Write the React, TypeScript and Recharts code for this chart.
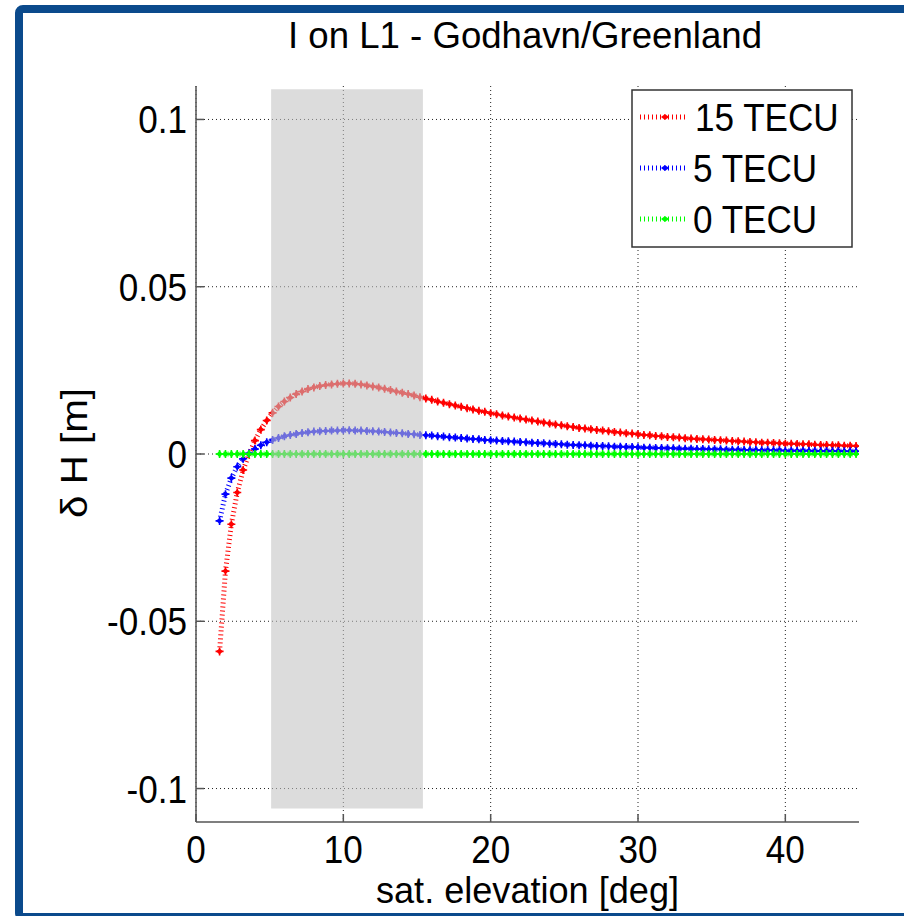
import React from 'react';
import { LineChart, Line, XAxis, YAxis, CartesianGrid, ReferenceArea, Legend } from 'recharts';

// satellite elevation [deg]
const elevation = [
  1.6, 2.0, 2.4, 2.8, 3.2, 3.6, 4.0, 4.4, 4.8, 5.2,
  5.6, 6.0, 6.4, 6.8, 7.2, 7.6, 8.0, 8.4, 8.8, 9.2,
  9.6, 10.0, 10.4, 10.8, 11.2, 11.6, 12.0, 12.4, 12.8, 13.2,
  13.6, 14.0, 14.4, 14.8, 15.2, 15.6, 16.0, 16.4, 16.8, 17.2,
  17.6, 18.0, 18.4, 18.8, 19.2, 19.6, 20.0, 20.4, 20.8, 21.2,
  21.6, 22.0, 22.4, 22.8, 23.2, 23.6, 24.0, 24.4, 24.8, 25.2,
  25.6, 26.0, 26.4, 26.8, 27.2, 27.6, 28.0, 28.4, 28.8, 29.2,
  29.6, 30.0, 30.4, 30.8, 31.2, 31.6, 32.0, 32.4, 32.8, 33.2,
  33.6, 34.0, 34.4, 34.8, 35.2, 35.6, 36.0, 36.4, 36.8, 37.2,
  37.6, 38.0, 38.4, 38.8, 39.2, 39.6, 40.0, 40.4, 40.8, 41.2,
  41.6, 42.0, 42.4, 42.8, 43.2, 43.6, 44.0, 44.4, 44.8,
];

// height error [m] for 15 TECU
const tecu15 = [
  -0.059, -0.035, -0.021, -0.0115, -0.0048, 0.0, 0.004, 0.0073, 0.01, 0.0123,
  0.0142, 0.0157, 0.0169, 0.0179, 0.0187, 0.0194, 0.0199, 0.0203, 0.0206, 0.0208,
  0.021, 0.0211, 0.0211, 0.021, 0.0208, 0.0205, 0.0202, 0.0199, 0.0195, 0.0191,
  0.0187, 0.0183, 0.0179, 0.0175, 0.017, 0.0166, 0.0162, 0.0157, 0.0153, 0.0149,
  0.0145, 0.0141, 0.0137, 0.0133, 0.0129, 0.0126, 0.0122, 0.0119, 0.0115, 0.0112,
  0.0109, 0.0106, 0.0103, 0.01, 0.0097, 0.0094, 0.0091, 0.0088, 0.0086, 0.0083,
  0.0081, 0.0078, 0.0076, 0.0074, 0.0072, 0.007, 0.0068, 0.0066, 0.0064, 0.0062,
  0.0061, 0.0059, 0.0057, 0.0056, 0.0054, 0.0053, 0.0051, 0.005, 0.0049, 0.0047,
  0.0046, 0.0045, 0.0044, 0.0043, 0.0042, 0.0041, 0.004, 0.0039, 0.0038, 0.0037,
  0.0036, 0.0035, 0.0034, 0.0034, 0.0033, 0.0032, 0.0031, 0.0031, 0.003, 0.0029,
  0.0029, 0.0028, 0.0027, 0.0027, 0.0026, 0.0026, 0.0025, 0.0025, 0.0024,
];

// height error [m] for 5 TECU
const tecu5 = [
  -0.02, -0.012, -0.0072, -0.0038, -0.0014, 0.0002, 0.0015, 0.0026, 0.0035, 0.0042,
  0.0048, 0.0053, 0.0057, 0.006, 0.0063, 0.0065, 0.0067, 0.0068, 0.0069, 0.007,
  0.007, 0.0071, 0.0071, 0.007, 0.007, 0.0069, 0.0068, 0.0067, 0.0066, 0.0064,
  0.0063, 0.0062, 0.006, 0.0059, 0.0057, 0.0056, 0.0055, 0.0053, 0.0052, 0.005,
  0.0049, 0.0048, 0.0046, 0.0045, 0.0044, 0.0042, 0.0041, 0.004, 0.0039, 0.0038,
  0.0037, 0.0036, 0.0035, 0.0034, 0.0033, 0.0032, 0.0031, 0.003, 0.0029, 0.0028,
  0.0027, 0.0026, 0.0026, 0.0025, 0.0024, 0.0024, 0.0023, 0.0022, 0.0022, 0.0021,
  0.0021, 0.002, 0.0019, 0.0019, 0.0018, 0.0018, 0.0017, 0.0017, 0.0016, 0.0016,
  0.0016, 0.0015, 0.0015, 0.0014, 0.0014, 0.0014, 0.0013, 0.0013, 0.0013, 0.0012,
  0.0012, 0.0012, 0.0011, 0.0011, 0.0011, 0.0011, 0.001, 0.001, 0.001, 0.001,
  0.001, 0.0009, 0.0009, 0.0009, 0.0009, 0.0009, 0.0008, 0.0008, 0.0008,
];

// height error [m] for 0 TECU
const tecu0 = [
  0, 0, 0, 0, 0, 0, 0, 0, 0, 0,
  0, 0, 0, 0, 0, 0, 0, 0, 0, 0,
  0, 0, 0, 0, 0, 0, 0, 0, 0, 0,
  0, 0, 0, 0, 0, 0, 0, 0, 0, 0,
  0, 0, 0, 0, 0, 0, 0, 0, 0, 0,
  0, 0, 0, 0, 0, 0, 0, 0, 0, 0,
  0, 0, 0, 0, 0, 0, 0, 0, 0, 0,
  0, 0, 0, 0, 0, 0, 0, 0, 0, 0,
  0, 0, 0, 0, 0, 0, 0, 0, 0, 0,
  0, 0, 0, 0, 0, 0, 0, 0, 0, 0,
  0, 0, 0, 0, 0, 0, 0, 0, 0,
];

const seriesNames = ['15 TECU', '5 TECU', '0 TECU'];
const xTicks = [0, 10, 20, 30, 40];
const yTicks = [-0.1, -0.05, 0, 0.05, 0.1];

// shaded elevation window
const bandElevation = [5.1, 15.4];
const bandHeight = [-0.106, 0.109];

const data = elevation.map((e, i) => ({
  elev: e,
  tec15: tecu15[i],
  tec5: tecu5[i],
  tec0: tecu0[i],
}));

const FONT = 'Liberation Sans, Arial, Helvetica, sans-serif';
const AXIS = '#555555';

const XTick = ({ x, y, payload }: any) => (
  <g>
    <line x1={x} x2={x} y1={y} y2={y - 8} stroke={AXIS} strokeWidth={1.5} />
    <g transform={`translate(${x},${y + 41}) scale(0.9,1)`}>
      <text textAnchor="middle" fontSize={39} fontFamily={FONT} fill="#000">
        {payload.value}
      </text>
    </g>
  </g>
);

const YTick = ({ x, y, payload }: any) => (
  <g>
    <line x1={x} x2={x + 8} y1={y} y2={y} stroke={AXIS} strokeWidth={1.5} />
    <g transform={`translate(${x - 9},${y + 14}) scale(0.9,1)`}>
      <text textAnchor="end" fontSize={39} fontFamily={FONT} fill="#000">
        {String(payload.value)}
      </text>
    </g>
  </g>
);

const renderMarker = (color: string) => (props: any) => {
  const { cx, cy, index } = props;
  if (cx == null || cy == null) return <g key={index} />;
  return (
    <g key={index}>
      <path d={`M${cx - 3.2},${cy} L${cx},${cy - 3.2} L${cx + 3.2},${cy} L${cx},${cy + 3.2} Z`} fill={color} />
      <path d={`M${cx - 4},${cy} H${cx + 4} M${cx},${cy - 4} V${cy + 4}`} stroke={color} strokeWidth={1.6} />
    </g>
  );
};

const LegendBox = ({ payload }: any) => {
  const items = (payload || [])
    .slice()
    .sort((a: any, b: any) => seriesNames.indexOf(a.value) - seriesNames.indexOf(b.value));
  return (
    <svg width={222} height={159} style={{ display: 'block' }}>
      <rect x={1} y={1} width={220} height={157} fill="#fff" stroke="#333" strokeWidth={1.5} />
      {items.map((item: any, i: number) => {
        const cy = 28 + i * 51;
        const color = item.color;
        return (
          <g key={item.value}>
            <line x1={9} x2={57} y1={cy} y2={cy} stroke={color} strokeWidth={5} strokeDasharray="1 3" />
            <path d={`M30,${cy} L34,${cy - 3} L38,${cy} L34,${cy + 3} Z`} fill={color} />
            <g transform={`translate(${i === 0 ? 64 : 62},${cy + 14}) scale(0.9,1)`}>
              <text fontSize={39} fontFamily={FONT} fill="#000">{item.value}</text>
            </g>
          </g>
        );
      })}
    </svg>
  );
};

export default function App() {
  return (
    <div style={{ position: 'absolute', left: 0, top: 0, width: 904, height: 916, overflow: 'hidden', background: '#fff' }}>
      <div
        style={{
          position: 'absolute',
          left: 15,
          top: 5,
          width: 1400,
          height: 916,
          boxSizing: 'border-box',
          border: '8px solid #0b4a8c',
          borderRadius: 8,
        }}
      />
      <div style={{ position: 'absolute', left: 0, top: 0 }}>
        <LineChart width={904} height={916} data={data} margin={{ top: 86, right: 45, bottom: 0, left: 0 }}>
          <CartesianGrid stroke="#222" strokeDasharray="1 3" strokeWidth={1} syncWithTicks />
          <XAxis
            dataKey="elev"
            type="number"
            domain={[0, 45]}
            ticks={xTicks}
            allowDataOverflow
            height={94}
            stroke={AXIS}
            strokeWidth={1.5}
            tickLine={false}
            tickSize={0}
            tickMargin={0}
            tick={<XTick />}
            label={{
              content: ({ viewBox }: any) => (
                <text
                  x={viewBox.x + viewBox.width / 2}
                  y={viewBox.y + 81}
                  textAnchor="middle"
                  fontSize={36}
                  fontFamily={FONT}
                  fill="#000"
                  textLength={303}
                  lengthAdjust="spacingAndGlyphs"
                >
                  sat. elevation [deg]
                </text>
              ),
            }}
          />
          <YAxis
            type="number"
            domain={[-0.11, 0.11]}
            ticks={yTicks}
            allowDataOverflow
            width={196}
            stroke={AXIS}
            strokeWidth={1.5}
            tickLine={false}
            tickSize={0}
            tickMargin={0}
            tick={<YTick />}
            label={{
              content: ({ viewBox }: any) => (
                <text
                  transform={`translate(87,${viewBox.y + viewBox.height / 2 - 1}) rotate(-90)`}
                  textAnchor="middle"
                  fontSize={36}
                  fontFamily={FONT}
                  fill="#000"
                  textLength={130}
                  lengthAdjust="spacingAndGlyphs"
                >
                  δ H [m]
                </text>
              ),
            }}
          />
          <Line
            name="15 TECU"
            dataKey="tec15"
            stroke="#ff0000"
            strokeWidth={5}
            strokeDasharray="1 3"
            dot={renderMarker('#ff0000')}
            activeDot={false}
            isAnimationActive={false}
          />
          <Line
            name="5 TECU"
            dataKey="tec5"
            stroke="#0000ff"
            strokeWidth={5}
            strokeDasharray="1 3"
            dot={renderMarker('#0000ff')}
            activeDot={false}
            isAnimationActive={false}
          />
          <Line
            name="0 TECU"
            dataKey="tec0"
            stroke="#00ff00"
            strokeWidth={5}
            strokeDasharray="1 3"
            dot={renderMarker('#00ff00')}
            activeDot={false}
            isAnimationActive={false}
          />
          <ReferenceArea
            x1={bandElevation[0]}
            x2={bandElevation[1]}
            y1={bandHeight[0]}
            y2={bandHeight[1]}
            fill="#c1c1c1"
            fillOpacity={0.57}
            stroke="none"
            ifOverflow="visible"
            zIndex={1000}
          />
          <Legend
            layout="vertical"
            align="center"
            verticalAlign="middle"
            content={<LegendBox />}
            wrapperStyle={{ position: 'absolute', left: 631, top: 89, width: 222, height: 159 }}
          />
        </LineChart>
      </div>
      <svg style={{ position: 'absolute', left: 0, top: 0, pointerEvents: 'none' }} width={904} height={70}>
        <text
          x={525}
          y={48}
          textAnchor="middle"
          fontSize={37}
          fontFamily={FONT}
          fill="#000"
          textLength={474}
          lengthAdjust="spacingAndGlyphs"
        >
          I on L1 - Godhavn/Greenland
        </text>
      </svg>
    </div>
  );
}
